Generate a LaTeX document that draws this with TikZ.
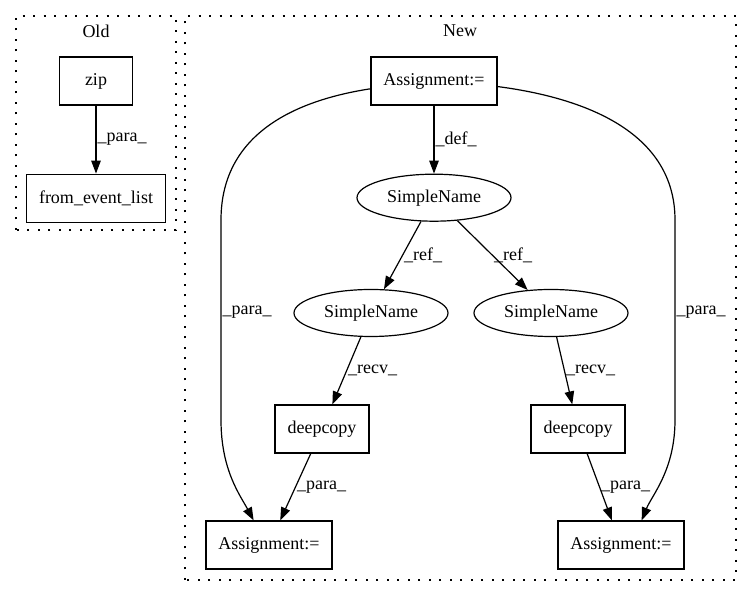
\documentclass[tikz,border=0pt]{standalone}
\usepackage{fontspec}
\setmainfont{Liberation Serif}
\usepackage{tikz}
\usetikzlibrary{shapes,arrows.meta,positioning}
\tikzstyle{box} = [rectangle, draw=black, line width=1.2pt, text=black, font=\fontsize{18pt}{20pt}\selectfont, minimum width=73pt, minimum height=48pt, inner xsep=12.5pt]
\tikzstyle{oval} = [ellipse, draw=black, line width=1.2pt, text=black, font=\fontsize{18pt}{20pt}\selectfont, minimum width=154pt, minimum height=47pt, inner sep=0pt]
\tikzstyle{lbl} = [text=black, font=\fontsize{18pt}{20pt}\selectfont, inner sep=1pt]
\tikzstyle{cluster} = [draw=black, line width=1.2pt, dash pattern=on 2pt off 8.5pt]
\tikzstyle{tedge}  = [draw, line width=1.2pt, >={Triangle[length=13pt, width=9.5pt]}, ->]

\begin{document}
\begin{tikzpicture}[x=1pt, y=1pt, auto]
\useasboundingbox (0,0) rectangle (752,596);

% clusters =============================
\draw[cluster] (16,366) rectangle (176,580);
\draw[cluster] (185,16) rectangle (736,580);
\node[lbl] (oldtitle) at (96,565) {Old};
\node[lbl] (newtitle) at (460,565) {New};

% old
\node[box] (zip) at (96,515) {zip};
\node[box, below=68pt of zip] (fel) {from\_event\_list};

% new
\node[box] (asgtop) at (434,515) {Assignment:=};
\node[oval, below=68pt of asgtop] (sntop) {SimpleName};
\node[oval] (snl) at (371,283) {SimpleName};
\node[oval] (snr) at (551,283) {SimpleName};
\node[box] (dcl) at (322,167) {deepcopy};
\node[box] (dcr) at (578,167) {deepcopy};
\node[box] (asgl) at (269,51) {Assignment:=};
\node[box] (asgr) at (621,51) {Assignment:=};

%edges
\path[tedge] (zip) -- node[lbl, right] {\_para\_} (fel);

\path[tedge] (asgtop) -- node[lbl, right] {\_def\_} (sntop);
\path[tedge] (sntop) -- node[lbl, right] {\_ref\_} (snl);
\path[tedge] (sntop) -- node[lbl, right] {\_ref\_} (snr);
\path[tedge] (snl) -- node[lbl, right] {\_recv\_} (dcl);
\path[tedge] (snr) -- node[lbl, right] {\_recv\_} (dcr);
\path[tedge] (dcl) -- node[lbl, right] {\_para\_} (asgl);
\path[tedge] (dcr) -- node[lbl, right] {\_para\_} (asgr);

\path[tedge] (asgtop.187) .. controls (285,494) and (221,456) .. (221,376)
  -- node[lbl, right, pos=0.46] {\_para\_} (221,176)
  .. controls (221,126) and (240,101) .. (asgl.122);
\path[tedge] (asgtop.355) .. controls (600,496) and (675,456) .. (675,376)
  -- node[lbl, right, pos=0.46] {\_para\_} (675,176)
  .. controls (675,126) and (652,101) .. (asgr.50);

\end{tikzpicture}
\end{document}
